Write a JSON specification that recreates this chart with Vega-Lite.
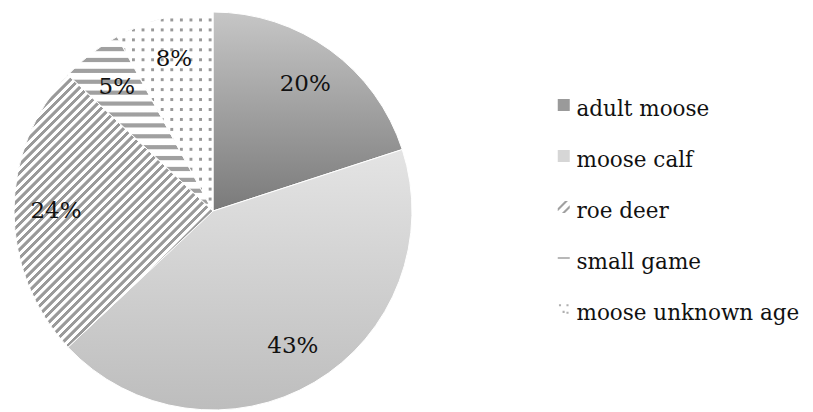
{
  "$schema": "https://vega.github.io/schema/vega-lite/v6.json",
  "width": 400,
  "height": 400,
  "autosize": {"type": "none"},
  "padding": {"left": 13, "top": 11, "right": 400, "bottom": 1},
  "background": "#ffffff",
  "config": {"view": {"stroke": null}},
  "data": {"values": [
    {"category": "adult moose", "share": 0.20, "idx": 1},
    {"category": "moose calf", "share": 0.43, "idx": 2},
    {"category": "roe deer", "share": 0.24, "idx": 3},
    {"category": "small game", "share": 0.05, "idx": 4},
    {"category": "moose unknown age", "share": 0.08, "idx": 5}
  ]},
  "encoding": {
    "theta": {"field": "share", "type": "quantitative", "stack": true},
    "order": {"field": "idx", "type": "quantitative"}
  },
  "layer": [
    {
      "mark": {"type": "arc", "radius": 199, "stroke": "#ffffff", "strokeWidth": 1},
      "encoding": {
        "fill": {
          "field": "category",
          "type": "nominal",
          "scale": {
            "domain": ["adult moose", "moose calf", "roe deer", "small game", "moose unknown age"],
            "range": ["#9a9a9a", "#d6d6d6", "#a0a0a0", "#a0a0a0", "#b0b0b0"]
          },
          "legend": {
            "title": null,
            "orient": "none",
            "legendX": 540,
            "legendY": 83,
            "direction": "vertical",
            "padding": 0,
            "symbolSize": 144,
            "symbolType": "square",
            "symbolStrokeWidth": 0,
            "clipHeight": 22,
            "labelFont": "DejaVu Serif",
            "labelFontSize": 21.5,
            "labelColor": "#111111",
            "labelOffset": 2,
            "rowPadding": 24,
            "labelLimit": 400,
            "encoding": {
              "symbols": {
                "fill": {"value": {"expr": "datum.value === 'adult moose' ? {gradient: 'linear', x1: 0, y1: 0, x2: 0, y2: 1, stops: [{offset: 0, color: '#cccccc'}, {offset: 1, color: '#777777'}]} : datum.value === 'moose calf' ? {gradient: 'linear', x1: 0, y1: 0, x2: 0, y2: 1, stops: [{offset: 0, color: '#e6e6e6'}, {offset: 1, color: '#c4c4c4'}]} : datum.value === 'moose unknown age' ? '#b0b0b0' : '#a0a0a0'"}},
                "shape": {"value": {"expr": "datum.value === 'roe deer' ? 'M-1,0.2L0.2,-1L0.7,-1L-1,0.7Z M-0.3,1L1,-0.3L1,0.2L0.2,1Z' : datum.value === 'small game' ? 'M-1,-0.12H1V0.12H-1Z' : datum.value === 'moose unknown age' ? 'M-0.8,-0.8h0.35v0.35h-0.35Z M0.45,-0.8h0.35v0.35h-0.35Z M-0.2,0.3h0.35v0.35h-0.35Z M0.45,0.45h0.35v0.35h-0.35Z' : 'square'"}}
              },
              "labels": {
                "dy": {"value": 5}
              }
            }
          },
          "condition": [
            {"test": "datum.category === 'adult moose'", "value": {"gradient": "linear", "x1": 0, "y1": 0, "x2": 0, "y2": 1, "stops": [{"offset": 0, "color": "#c6c6c6"}, {"offset": 1, "color": "#7a7a7a"}]}},
            {"test": "datum.category === 'moose calf'", "value": {"gradient": "linear", "x1": 0, "y1": 0, "x2": 0, "y2": 1, "stops": [{"offset": 0, "color": "#e4e4e4"}, {"offset": 1, "color": "#bdbdbd"}]}},
            {"test": "datum.category === 'roe deer'", "value": {"gradient": "linear", "x1": 0, "y1": 0, "x2": 0.7431, "y2": 1.0172, "stops": [
              {"offset": 0.1, "color": "#9a9a9a"}, {"offset": 0.1085, "color": "#9a9a9a"}, {"offset": 0.11, "color": "#fff"}, {"offset": 0.1185, "color": "#fff"},
              {"offset": 0.12, "color": "#9a9a9a"}, {"offset": 0.1285, "color": "#9a9a9a"}, {"offset": 0.13, "color": "#fff"}, {"offset": 0.1385, "color": "#fff"},
              {"offset": 0.14, "color": "#9a9a9a"}, {"offset": 0.1485, "color": "#9a9a9a"}, {"offset": 0.15, "color": "#fff"}, {"offset": 0.1585, "color": "#fff"},
              {"offset": 0.16, "color": "#9a9a9a"}, {"offset": 0.1685, "color": "#9a9a9a"}, {"offset": 0.17, "color": "#fff"}, {"offset": 0.1785, "color": "#fff"},
              {"offset": 0.18, "color": "#9a9a9a"}, {"offset": 0.1885, "color": "#9a9a9a"}, {"offset": 0.19, "color": "#fff"}, {"offset": 0.1985, "color": "#fff"},
              {"offset": 0.2, "color": "#9a9a9a"}, {"offset": 0.2085, "color": "#9a9a9a"}, {"offset": 0.21, "color": "#fff"}, {"offset": 0.2185, "color": "#fff"},
              {"offset": 0.22, "color": "#9a9a9a"}, {"offset": 0.2285, "color": "#9a9a9a"}, {"offset": 0.23, "color": "#fff"}, {"offset": 0.2385, "color": "#fff"},
              {"offset": 0.24, "color": "#9a9a9a"}, {"offset": 0.2485, "color": "#9a9a9a"}, {"offset": 0.25, "color": "#fff"}, {"offset": 0.2585, "color": "#fff"},
              {"offset": 0.26, "color": "#9a9a9a"}, {"offset": 0.2685, "color": "#9a9a9a"}, {"offset": 0.27, "color": "#fff"}, {"offset": 0.2785, "color": "#fff"},
              {"offset": 0.28, "color": "#9a9a9a"}, {"offset": 0.2885, "color": "#9a9a9a"}, {"offset": 0.29, "color": "#fff"}, {"offset": 0.2985, "color": "#fff"},
              {"offset": 0.3, "color": "#9a9a9a"}, {"offset": 0.3085, "color": "#9a9a9a"}, {"offset": 0.31, "color": "#fff"}, {"offset": 0.3185, "color": "#fff"},
              {"offset": 0.32, "color": "#9a9a9a"}, {"offset": 0.3285, "color": "#9a9a9a"}, {"offset": 0.33, "color": "#fff"}, {"offset": 0.3385, "color": "#fff"},
              {"offset": 0.34, "color": "#9a9a9a"}, {"offset": 0.3485, "color": "#9a9a9a"}, {"offset": 0.35, "color": "#fff"}, {"offset": 0.3585, "color": "#fff"},
              {"offset": 0.36, "color": "#9a9a9a"}, {"offset": 0.3685, "color": "#9a9a9a"}, {"offset": 0.37, "color": "#fff"}, {"offset": 0.3785, "color": "#fff"},
              {"offset": 0.38, "color": "#9a9a9a"}, {"offset": 0.3885, "color": "#9a9a9a"}, {"offset": 0.39, "color": "#fff"}, {"offset": 0.3985, "color": "#fff"},
              {"offset": 0.4, "color": "#9a9a9a"}, {"offset": 0.4085, "color": "#9a9a9a"}, {"offset": 0.41, "color": "#fff"}, {"offset": 0.4185, "color": "#fff"},
              {"offset": 0.42, "color": "#9a9a9a"}, {"offset": 0.4285, "color": "#9a9a9a"}, {"offset": 0.43, "color": "#fff"}, {"offset": 0.4385, "color": "#fff"},
              {"offset": 0.44, "color": "#9a9a9a"}, {"offset": 0.4485, "color": "#9a9a9a"}, {"offset": 0.45, "color": "#fff"}, {"offset": 0.4585, "color": "#fff"},
              {"offset": 0.46, "color": "#9a9a9a"}, {"offset": 0.4685, "color": "#9a9a9a"}, {"offset": 0.47, "color": "#fff"}, {"offset": 0.4785, "color": "#fff"},
              {"offset": 0.48, "color": "#9a9a9a"}, {"offset": 0.4885, "color": "#9a9a9a"}, {"offset": 0.49, "color": "#fff"}, {"offset": 0.4985, "color": "#fff"},
              {"offset": 0.5, "color": "#9a9a9a"}, {"offset": 0.5085, "color": "#9a9a9a"}, {"offset": 0.51, "color": "#fff"}, {"offset": 0.5185, "color": "#fff"},
              {"offset": 0.52, "color": "#9a9a9a"}, {"offset": 0.5285, "color": "#9a9a9a"}, {"offset": 0.53, "color": "#fff"}, {"offset": 0.5385, "color": "#fff"},
              {"offset": 0.54, "color": "#9a9a9a"}, {"offset": 0.5485, "color": "#9a9a9a"}, {"offset": 0.55, "color": "#fff"}, {"offset": 0.5585, "color": "#fff"},
              {"offset": 0.56, "color": "#9a9a9a"}, {"offset": 0.5685, "color": "#9a9a9a"}, {"offset": 0.57, "color": "#fff"}, {"offset": 0.5785, "color": "#fff"},
              {"offset": 0.58, "color": "#9a9a9a"}, {"offset": 0.5885, "color": "#9a9a9a"}, {"offset": 0.59, "color": "#fff"}, {"offset": 0.5985, "color": "#fff"},
              {"offset": 0.6, "color": "#9a9a9a"}, {"offset": 0.6085, "color": "#9a9a9a"}, {"offset": 0.61, "color": "#fff"}, {"offset": 0.6185, "color": "#fff"},
              {"offset": 0.62, "color": "#9a9a9a"}, {"offset": 0.6285, "color": "#9a9a9a"}, {"offset": 0.63, "color": "#fff"}, {"offset": 0.6385, "color": "#fff"},
              {"offset": 0.64, "color": "#9a9a9a"}, {"offset": 0.6485, "color": "#9a9a9a"}, {"offset": 0.65, "color": "#fff"}, {"offset": 0.6585, "color": "#fff"},
              {"offset": 0.66, "color": "#9a9a9a"}, {"offset": 0.6685, "color": "#9a9a9a"}, {"offset": 0.67, "color": "#fff"}, {"offset": 0.6785, "color": "#fff"},
              {"offset": 0.68, "color": "#9a9a9a"}, {"offset": 0.6885, "color": "#9a9a9a"}, {"offset": 0.69, "color": "#fff"}, {"offset": 0.6985, "color": "#fff"},
              {"offset": 0.7, "color": "#9a9a9a"}, {"offset": 0.7085, "color": "#9a9a9a"}, {"offset": 0.71, "color": "#fff"}, {"offset": 0.7185, "color": "#fff"},
              {"offset": 0.72, "color": "#9a9a9a"}, {"offset": 0.7285, "color": "#9a9a9a"}, {"offset": 0.73, "color": "#fff"}, {"offset": 0.7385, "color": "#fff"},
              {"offset": 0.74, "color": "#9a9a9a"}, {"offset": 0.7485, "color": "#9a9a9a"}, {"offset": 0.75, "color": "#fff"}, {"offset": 0.7585, "color": "#fff"},
              {"offset": 0.76, "color": "#9a9a9a"}, {"offset": 0.7685, "color": "#9a9a9a"}, {"offset": 0.77, "color": "#fff"}, {"offset": 0.7785, "color": "#fff"},
              {"offset": 0.78, "color": "#9a9a9a"}, {"offset": 0.7885, "color": "#9a9a9a"}, {"offset": 0.79, "color": "#fff"}, {"offset": 0.7985, "color": "#fff"},
              {"offset": 0.8, "color": "#9a9a9a"}, {"offset": 0.8085, "color": "#9a9a9a"}, {"offset": 0.81, "color": "#fff"}, {"offset": 0.8185, "color": "#fff"},
              {"offset": 0.82, "color": "#9a9a9a"}
            ]}},
            {"test": "datum.category === 'small game'", "value": {"gradient": "linear", "x1": 0, "y1": 0, "x2": 0, "y2": 1, "stops": [
              {"offset": 0, "color": "#a0a0a0"}, {"offset": 0.018, "color": "#a0a0a0"}, {"offset": 0.024, "color": "#fff"}, {"offset": 0.0565, "color": "#fff"},
              {"offset": 0.0625, "color": "#a0a0a0"}, {"offset": 0.0805, "color": "#a0a0a0"}, {"offset": 0.0865, "color": "#fff"}, {"offset": 0.119, "color": "#fff"},
              {"offset": 0.125, "color": "#a0a0a0"}, {"offset": 0.143, "color": "#a0a0a0"}, {"offset": 0.149, "color": "#fff"}, {"offset": 0.1815, "color": "#fff"},
              {"offset": 0.1875, "color": "#a0a0a0"}, {"offset": 0.2055, "color": "#a0a0a0"}, {"offset": 0.2115, "color": "#fff"}, {"offset": 0.244, "color": "#fff"},
              {"offset": 0.25, "color": "#a0a0a0"}, {"offset": 0.268, "color": "#a0a0a0"}, {"offset": 0.274, "color": "#fff"}, {"offset": 0.3065, "color": "#fff"},
              {"offset": 0.3125, "color": "#a0a0a0"}, {"offset": 0.3305, "color": "#a0a0a0"}, {"offset": 0.3365, "color": "#fff"}, {"offset": 0.369, "color": "#fff"},
              {"offset": 0.375, "color": "#a0a0a0"}, {"offset": 0.393, "color": "#a0a0a0"}, {"offset": 0.399, "color": "#fff"}, {"offset": 0.4315, "color": "#fff"},
              {"offset": 0.4375, "color": "#a0a0a0"}, {"offset": 0.4555, "color": "#a0a0a0"}, {"offset": 0.4615, "color": "#fff"}, {"offset": 0.494, "color": "#fff"},
              {"offset": 0.5, "color": "#a0a0a0"}, {"offset": 0.518, "color": "#a0a0a0"}, {"offset": 0.524, "color": "#fff"}, {"offset": 0.5565, "color": "#fff"},
              {"offset": 0.5625, "color": "#a0a0a0"}, {"offset": 0.5805, "color": "#a0a0a0"}, {"offset": 0.5865, "color": "#fff"}, {"offset": 0.619, "color": "#fff"},
              {"offset": 0.625, "color": "#a0a0a0"}, {"offset": 0.643, "color": "#a0a0a0"}, {"offset": 0.649, "color": "#fff"}, {"offset": 0.6815, "color": "#fff"},
              {"offset": 0.6875, "color": "#a0a0a0"}, {"offset": 0.7055, "color": "#a0a0a0"}, {"offset": 0.7115, "color": "#fff"}, {"offset": 0.744, "color": "#fff"},
              {"offset": 0.75, "color": "#a0a0a0"}, {"offset": 0.768, "color": "#a0a0a0"}, {"offset": 0.774, "color": "#fff"}, {"offset": 0.8065, "color": "#fff"},
              {"offset": 0.8125, "color": "#a0a0a0"}, {"offset": 0.8305, "color": "#a0a0a0"}, {"offset": 0.8365, "color": "#fff"}, {"offset": 0.869, "color": "#fff"},
              {"offset": 0.875, "color": "#a0a0a0"}, {"offset": 0.893, "color": "#a0a0a0"}, {"offset": 0.899, "color": "#fff"}, {"offset": 0.9315, "color": "#fff"},
              {"offset": 0.9375, "color": "#a0a0a0"}, {"offset": 0.9555, "color": "#a0a0a0"}, {"offset": 0.9615, "color": "#fff"}, {"offset": 0.994, "color": "#fff"}
            ]}},
            {"test": "datum.category === 'moose unknown age'", "value": {"gradient": "linear", "x1": 0, "y1": 0, "x2": 0, "y2": 1, "stops": [
              {"offset": 0, "color": "#fff"}, {"offset": 0.03, "color": "#fff"}, {"offset": 0.035, "color": "#999"}, {"offset": 0.045, "color": "#999"},
              {"offset": 0.05, "color": "#fff"}, {"offset": 0.08, "color": "#fff"}, {"offset": 0.085, "color": "#999"}, {"offset": 0.095, "color": "#999"},
              {"offset": 0.1, "color": "#fff"}, {"offset": 0.13, "color": "#fff"}, {"offset": 0.135, "color": "#999"}, {"offset": 0.145, "color": "#999"},
              {"offset": 0.15, "color": "#fff"}, {"offset": 0.18, "color": "#fff"}, {"offset": 0.185, "color": "#999"}, {"offset": 0.195, "color": "#999"},
              {"offset": 0.2, "color": "#fff"}, {"offset": 0.23, "color": "#fff"}, {"offset": 0.235, "color": "#999"}, {"offset": 0.245, "color": "#999"},
              {"offset": 0.25, "color": "#fff"}, {"offset": 0.28, "color": "#fff"}, {"offset": 0.285, "color": "#999"}, {"offset": 0.295, "color": "#999"},
              {"offset": 0.3, "color": "#fff"}, {"offset": 0.33, "color": "#fff"}, {"offset": 0.335, "color": "#999"}, {"offset": 0.345, "color": "#999"},
              {"offset": 0.35, "color": "#fff"}, {"offset": 0.38, "color": "#fff"}, {"offset": 0.385, "color": "#999"}, {"offset": 0.395, "color": "#999"},
              {"offset": 0.4, "color": "#fff"}, {"offset": 0.43, "color": "#fff"}, {"offset": 0.435, "color": "#999"}, {"offset": 0.445, "color": "#999"},
              {"offset": 0.45, "color": "#fff"}, {"offset": 0.48, "color": "#fff"}, {"offset": 0.485, "color": "#999"}, {"offset": 0.495, "color": "#999"},
              {"offset": 0.5, "color": "#fff"}, {"offset": 0.53, "color": "#fff"}, {"offset": 0.535, "color": "#999"}, {"offset": 0.545, "color": "#999"},
              {"offset": 0.55, "color": "#fff"}, {"offset": 0.58, "color": "#fff"}, {"offset": 0.585, "color": "#999"}, {"offset": 0.595, "color": "#999"},
              {"offset": 0.6, "color": "#fff"}, {"offset": 0.63, "color": "#fff"}, {"offset": 0.635, "color": "#999"}, {"offset": 0.645, "color": "#999"},
              {"offset": 0.65, "color": "#fff"}, {"offset": 0.68, "color": "#fff"}, {"offset": 0.685, "color": "#999"}, {"offset": 0.695, "color": "#999"},
              {"offset": 0.7, "color": "#fff"}, {"offset": 0.73, "color": "#fff"}, {"offset": 0.735, "color": "#999"}, {"offset": 0.745, "color": "#999"},
              {"offset": 0.75, "color": "#fff"}, {"offset": 0.78, "color": "#fff"}, {"offset": 0.785, "color": "#999"}, {"offset": 0.795, "color": "#999"},
              {"offset": 0.8, "color": "#fff"}, {"offset": 0.83, "color": "#fff"}, {"offset": 0.835, "color": "#999"}, {"offset": 0.845, "color": "#999"},
              {"offset": 0.85, "color": "#fff"}, {"offset": 0.88, "color": "#fff"}, {"offset": 0.885, "color": "#999"}, {"offset": 0.895, "color": "#999"},
              {"offset": 0.9, "color": "#fff"}, {"offset": 0.93, "color": "#fff"}, {"offset": 0.935, "color": "#999"}, {"offset": 0.945, "color": "#999"},
              {"offset": 0.95, "color": "#fff"}, {"offset": 0.98, "color": "#fff"}, {"offset": 0.985, "color": "#999"}, {"offset": 0.995, "color": "#999"}
            ]}}
          ]
        }
      }
    },
    {
      "mark": {"type": "arc", "radius": 199, "strokeWidth": 0},
      "encoding": {
        "fill": {
          "condition": {"test": "datum.category === 'moose unknown age'", "value": {"gradient": "linear", "x1": 0, "y1": 0, "x2": 1, "y2": 0, "stops": [
            {"offset": 0, "color": "#fff"}, {"offset": 0.05, "color": "#fff"}, {"offset": 0.06, "color": "rgba(255,255,255,0)"}, {"offset": 0.08, "color": "rgba(255,255,255,0)"}, {"offset": 0.09, "color": "#fff"},
            {"offset": 0.15, "color": "#fff"}, {"offset": 0.16, "color": "rgba(255,255,255,0)"}, {"offset": 0.18, "color": "rgba(255,255,255,0)"}, {"offset": 0.19, "color": "#fff"},
            {"offset": 0.25, "color": "#fff"}, {"offset": 0.26, "color": "rgba(255,255,255,0)"}, {"offset": 0.28, "color": "rgba(255,255,255,0)"}, {"offset": 0.29, "color": "#fff"},
            {"offset": 0.35, "color": "#fff"}, {"offset": 0.36, "color": "rgba(255,255,255,0)"}, {"offset": 0.38, "color": "rgba(255,255,255,0)"}, {"offset": 0.39, "color": "#fff"},
            {"offset": 0.45, "color": "#fff"}, {"offset": 0.46, "color": "rgba(255,255,255,0)"}, {"offset": 0.48, "color": "rgba(255,255,255,0)"}, {"offset": 0.49, "color": "#fff"},
            {"offset": 0.55, "color": "#fff"}, {"offset": 0.56, "color": "rgba(255,255,255,0)"}, {"offset": 0.58, "color": "rgba(255,255,255,0)"}, {"offset": 0.59, "color": "#fff"},
            {"offset": 0.65, "color": "#fff"}, {"offset": 0.66, "color": "rgba(255,255,255,0)"}, {"offset": 0.68, "color": "rgba(255,255,255,0)"}, {"offset": 0.69, "color": "#fff"},
            {"offset": 0.75, "color": "#fff"}, {"offset": 0.76, "color": "rgba(255,255,255,0)"}, {"offset": 0.78, "color": "rgba(255,255,255,0)"}, {"offset": 0.79, "color": "#fff"},
            {"offset": 0.85, "color": "#fff"}, {"offset": 0.86, "color": "rgba(255,255,255,0)"}, {"offset": 0.88, "color": "rgba(255,255,255,0)"}, {"offset": 0.89, "color": "#fff"},
            {"offset": 0.95, "color": "#fff"}, {"offset": 0.96, "color": "rgba(255,255,255,0)"}, {"offset": 0.98, "color": "rgba(255,255,255,0)"}, {"offset": 0.99, "color": "#fff"}
          ]}},
          "value": "transparent"
        }
      }
    },
    {
      "mark": {"type": "text", "radius": 157, "font": "DejaVu Serif", "fontSize": 23, "color": "#111111", "align": "center", "baseline": "middle"},
      "encoding": {
        "text": {"field": "share", "type": "quantitative", "format": ".0%"}
      }
    }
  ]
}
